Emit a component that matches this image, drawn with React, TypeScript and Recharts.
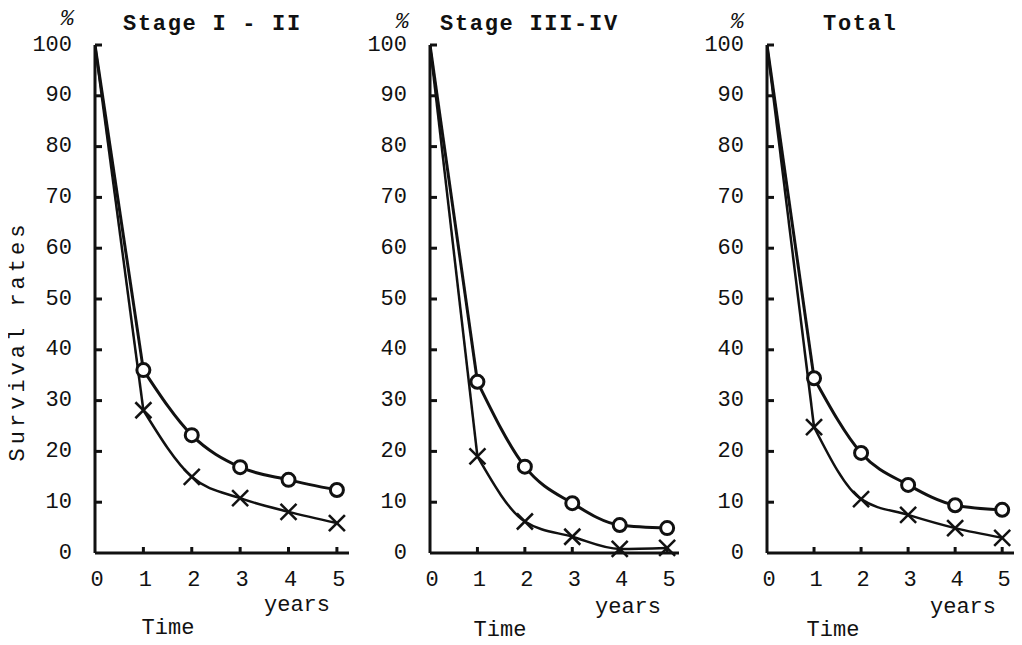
import { LineChart, Line, XAxis, YAxis } from 'recharts'

// survival rate (%) by year after diagnosis
const years = [0, 1, 2, 3, 4, 5]
const yTicks = [0, 10, 20, 30, 40, 50, 60, 70, 80, 90, 100]

const stage12Circle = [100, 36, 23.2, 16.9, 14.4, 12.4]
const stage12Cross = [100, 28.1, 15, 10.8, 8.1, 5.9]

const stage34Circle = [100, 33.7, 17, 9.8, 5.5, 4.9]
const stage34Cross = [100, 19, 6.2, 3.2, 0.8, 1]

const totalCircle = [100, 34.4, 19.7, 13.4, 9.4, 8.5]
const totalCross = [100, 24.8, 10.6, 7.5, 4.9, 3]

const INK = '#111'
const FONT = '"Liberation Mono", "DejaVu Sans Mono", monospace'

// the first year drop is drawn straight, the tail as a smooth curve
const toRows = (circle: number[], cross: number[]) =>
  years.map((t, i) => ({
    t,
    oHead: i <= 1 ? circle[i] : null,
    xHead: i <= 1 ? cross[i] : null,
    o: i >= 1 ? circle[i] : null,
    x: i >= 1 ? cross[i] : null,
  }))

const YTick = ({ x, y, payload }: any) => (
  <g>
    {payload.value > 0 && (
      <line x1={x} x2={x + 7} y1={y} y2={y} stroke={INK} strokeWidth={3} />
    )}
    <text
      x={x - 23}
      y={y}
      textAnchor="end"
      dominantBaseline="central"
      fontFamily={FONT}
      fontSize={22}
      fill={INK}
    >
      {payload.value}
    </text>
  </g>
)

const XTick = ({ x, y, payload }: any) => (
  <g>
    {payload.value > 0 && (
      <line x1={x} x2={x} y1={y} y2={y - 6} stroke={INK} strokeWidth={3} />
    )}
    <text
      x={x + 2}
      y={y + 27}
      textAnchor="middle"
      dominantBaseline="central"
      fontFamily={FONT}
      fontSize={22}
      fill={INK}
    >
      {payload.value}
    </text>
  </g>
)

const circleDot = (props: any) => {
  const { cx, cy, index, value } = props
  if (value == null) return <g key={`o${index}`} />
  return (
    <circle
      key={`o${index}`}
      cx={cx}
      cy={cy}
      r={6.5}
      fill="#fff"
      stroke={INK}
      strokeWidth={3}
    />
  )
}

const crossDot = (props: any) => {
  const { cx, cy, index, value } = props
  if (value == null) return <g key={`x${index}`} />
  const s = 8
  return (
    <g key={`x${index}`} stroke={INK} strokeWidth={2.5}>
      <line x1={cx - s} y1={cy - s} x2={cx + s} y2={cy + s} />
      <line x1={cx - s} y1={cy + s} x2={cx + s} y2={cy - s} />
    </g>
  )
}

type PanelProps = {
  circle: number[]
  cross: number[]
  left: number
  width: number
  axisWidth: number
  xMax: number
  right: number
}

function Panel({ circle, cross, left, width, axisWidth, xMax, right }: PanelProps) {
  const data = toRows(circle, cross)
  return (
    <div style={{ position: 'absolute', left, top: 0 }}>
      <LineChart
        width={width}
        height={645}
        data={data}
        margin={{ top: 45, right, bottom: 0, left: 0 }}
      >
        <XAxis
          dataKey="t"
          type="number"
          domain={[0, xMax]}
          ticks={years}
          allowDataOverflow
          tickLine={false}
          tickSize={0}
          tickMargin={0}
          tick={<XTick />}
          axisLine={{ stroke: INK, strokeWidth: 3 }}
          height={92}
        />
        <YAxis
          type="number"
          domain={[0, 100]}
          ticks={yTicks}
          width={axisWidth}
          tickLine={false}
          tickSize={0}
          tickMargin={0}
          tick={<YTick />}
          axisLine={{ stroke: INK, strokeWidth: 3 }}
        />
        <Line
          type="linear"
          dataKey="oHead"
          stroke={INK}
          strokeWidth={3}
          dot={false}
          isAnimationActive={false}
        />
        <Line
          type="linear"
          dataKey="xHead"
          stroke={INK}
          strokeWidth={2.5}
          dot={false}
          isAnimationActive={false}
        />
        <Line
          type="monotone"
          dataKey="o"
          stroke={INK}
          strokeWidth={3}
          dot={circleDot}
          isAnimationActive={false}
        />
        <Line
          type="monotone"
          dataKey="x"
          stroke={INK}
          strokeWidth={2.5}
          dot={crossDot}
          isAnimationActive={false}
        />
      </LineChart>
    </div>
  )
}

const textStyle = { fontFamily: FONT, fontSize: 22, fill: INK }

export default function App() {
  return (
    <div
      style={{
        position: 'relative',
        width: 1022,
        height: 645,
        margin: -8,
        background: '#fff',
        overflow: 'hidden',
      }}
    >
      <Panel circle={stage12Circle} cross={stage12Cross} left={0} width={360} axisWidth={95} xMax={5.25} right={11} />
      <Panel circle={stage34Circle} cross={stage34Cross} left={340} width={360} axisWidth={90} xMax={5.25} right={21} />
      <Panel circle={totalCircle} cross={totalCross} left={680} width={342} axisWidth={87} xMax={5.4} right={1} />

      <svg
        width={1022}
        height={645}
        style={{ position: 'absolute', left: 0, top: 0, pointerEvents: 'none' }}
      >
        <g {...textStyle} dominantBaseline="central">
          {/* panel titles */}
          <text x={67} y={19} textAnchor="middle" fontStyle="italic">%</text>
          <text x={123} y={24} fontWeight="bold" letterSpacing={1.7}>Stage I - II</text>
          <text x={402} y={22} textAnchor="middle" fontStyle="italic">%</text>
          <text x={440} y={24} fontWeight="bold" letterSpacing={1.7}>Stage III-IV</text>
          <text x={737} y={22} textAnchor="middle" fontStyle="italic">%</text>
          <text x={823} y={24} fontWeight="bold" letterSpacing={1.7}>Total</text>

          {/* x axis captions */}
          <text x={297} y={605} textAnchor="middle">years</text>
          <text x={168} y={628} textAnchor="middle">Time</text>
          <text x={628} y={607} textAnchor="middle">years</text>
          <text x={500} y={630} textAnchor="middle">Time</text>
          <text x={963} y={607} textAnchor="middle">years</text>
          <text x={833} y={630} textAnchor="middle">Time</text>

          {/* y axis caption */}
          <text
            x={18}
            y={341}
            textAnchor="middle"
            letterSpacing={4}
            transform="rotate(-90 18 341)"
          >
            Survival rates
          </text>
        </g>
      </svg>
    </div>
  )
}
